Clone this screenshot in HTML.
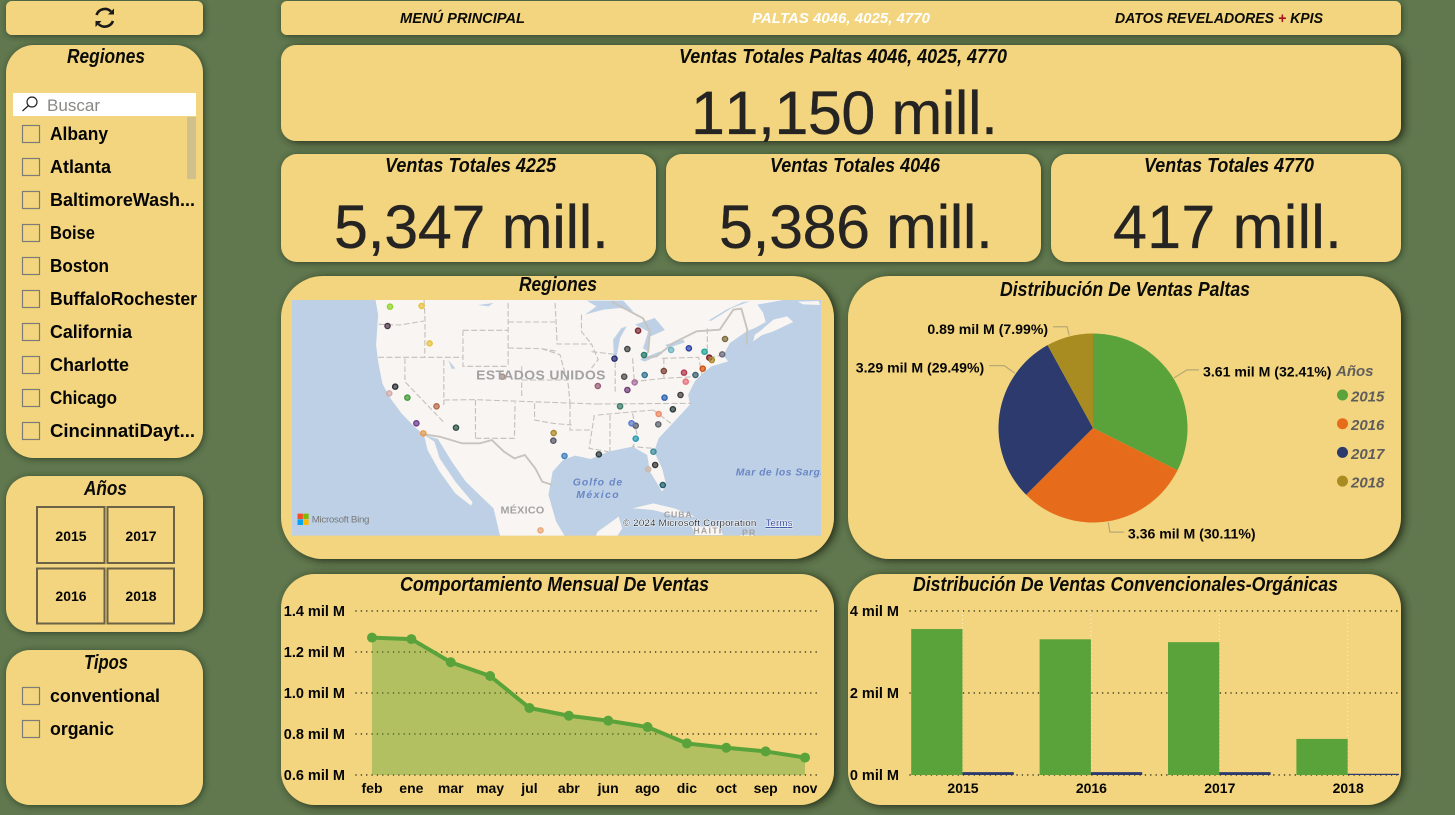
<!DOCTYPE html>
<html lang="es">
<head>
<meta charset="utf-8">
<title>Ventas Paltas</title>
<style>
html,body{margin:0;padding:0;width:1455px;height:815px;overflow:hidden;background:#61784f;}
svg{display:block;position:absolute;left:0;top:0;}
text{font-family:"Liberation Sans",sans-serif;}
.card{fill:#f2d57e;filter:url(#cardShadow);}
.cardBig{fill:#f2d57e;filter:url(#bigShadow);}
.title{font-family:"Liberation Sans Narrow","Liberation Sans",sans-serif;font-weight:700;font-style:italic;font-size:20px;fill:#0b0b08;}
.kpi{font-size:61px;fill:#252423;stroke:#252423;stroke-width:.3;font-kerning:none;}
.nav{font-weight:700;font-style:italic;font-size:15px;fill:#0b0b08;}
.item{font-weight:700;font-size:18px;fill:#050505;}
.box{fill:none;stroke:#7d7a78;stroke-width:1.2;}
.tile{fill:none;stroke:#6b6248;stroke-width:2;}
.tileText{font-weight:700;font-size:14px;fill:#050505;text-anchor:middle;}
.axis{font-weight:700;font-size:14.5px;fill:#050505;}
.grid{stroke:#2e2a16;stroke-width:1.4;stroke-linecap:round;stroke-dasharray:.1 5.25;fill:none;}
.legend{font-weight:700;font-style:italic;font-size:15px;fill:#605e5c;}
.pieLabel{font-weight:700;font-size:14.1px;fill:#050505;}
.dash{fill:none;stroke:#c4c0bb;stroke-width:3.2;stroke-dasharray:17 7;}
.maplabel{font-weight:700;fill:#a2a2a2;}
</style>
</head>
<body>
<svg id="page" width="1455" height="815" viewBox="0 0 1455 815" xmlns="http://www.w3.org/2000/svg">
<defs>
<filter id="cardShadow" x="-10%" y="-20%" width="120%" height="140%"><feDropShadow dx="1" dy="1" stdDeviation="3.4" flood-color="#27341d" flood-opacity=".85"/></filter>
<filter id="bigShadow" x="-10%" y="-20%" width="120%" height="140%"><feDropShadow dx="3" dy="1.5" stdDeviation="4.2" flood-color="#212c18" flood-opacity="1"/></filter>
<filter id="halo" x="-5%" y="-20%" width="110%" height="140%"><feMorphology in="SourceAlpha" operator="dilate" radius="2" result="d"/><feFlood flood-color="#ffffff" flood-opacity=".8"/><feComposite in2="d" operator="in" result="w"/><feMerge><feMergeNode in="w"/><feMergeNode in="SourceGraphic"/></feMerge></filter>
<clipPath id="mapClip"><rect x="20" y="15" width="1522" height="707"/></clipPath>
</defs>

<!-- cards -->
<rect class="card" x="6" y="1" width="197" height="34" rx="6"/>
<rect class="card" x="6" y="45" width="197" height="413" rx="28"/>
<rect class="card" x="6" y="476" width="197" height="156" rx="24"/>
<rect class="card" x="6" y="650" width="197" height="155" rx="24"/>
<rect class="card" x="281" y="1" width="1120" height="34" rx="6"/>
<rect class="cardBig" x="281" y="45" width="1120" height="96" rx="15"/>
<rect class="card" x="281" y="154" width="375" height="108" rx="16"/>
<rect class="card" x="666" y="154" width="375" height="108" rx="16"/>
<rect class="card" x="1051" y="154" width="350" height="108" rx="16"/>
<rect class="cardBig" x="281" y="276" width="553" height="283" rx="42"/>
<rect class="cardBig" x="848" y="276" width="553" height="283" rx="42"/>
<rect class="cardBig" x="281" y="574" width="553" height="231" rx="34"/>
<rect class="cardBig" x="848" y="574" width="553" height="231" rx="34"/>

<!-- refresh icon -->
<g fill="none" stroke="#1a1a1a" stroke-width="2.6">
<path d="M96.5,15 A8.8,8.8 0 0 1 111,11.5"/>
<path d="M113,21 A8.8,8.8 0 0 1 98.5,24"/>
<path d="M108,14.5 L114,14.5 L114,8.5 Z" fill="#1a1a1a" stroke="none"/>
<path d="M95.5,21 L101.5,21 L95.5,27 Z" fill="#1a1a1a" stroke="none"/>
</g>

<!-- navigation -->
<text class="nav" x="400" y="23" textLength="125" lengthAdjust="spacingAndGlyphs">MENÚ PRINCIPAL</text>
<text class="nav" x="752" y="23" textLength="178" lengthAdjust="spacingAndGlyphs" style="fill:#ffffff">PALTAS 4046, 4025, 4770</text>
<text class="nav" x="1115" y="23" textLength="208" lengthAdjust="spacingAndGlyphs">DATOS REVELADORES <tspan fill="#a3121f">+</tspan> KPIS</text>

<!-- KPI -->
<text class="title" x="679" y="63" textLength="328" lengthAdjust="spacingAndGlyphs">Ventas Totales Paltas 4046, 4025, 4770</text>
<text class="kpi" x="691" y="134" textLength="307" lengthAdjust="spacing">11,150 mill.</text>
<text class="title" x="385" y="172" textLength="171" lengthAdjust="spacingAndGlyphs">Ventas Totales 4225</text>
<text class="kpi" x="334" y="248" textLength="275" lengthAdjust="spacing">5,347 mill.</text>
<text class="title" x="770" y="172" textLength="170" lengthAdjust="spacingAndGlyphs">Ventas Totales 4046</text>
<text class="kpi" x="719" y="248" textLength="274" lengthAdjust="spacing">5,386 mill.</text>
<text class="title" x="1144" y="172" textLength="170" lengthAdjust="spacingAndGlyphs">Ventas Totales 4770</text>
<text class="kpi" x="1113" y="248" textLength="229" lengthAdjust="spacing">417 mill.</text>

<!-- regions slicer -->
<text class="title" x="67" y="63" textLength="78" lengthAdjust="spacingAndGlyphs">Regiones</text>
<rect x="13" y="93" width="183" height="23" fill="#ffffff"/>
<g fill="none" stroke="#222" stroke-width="1.2"><circle cx="32" cy="102" r="5"/><path d="M28.5,105.5 L22.5,111"/></g>
<text x="47" y="111" textLength="53" lengthAdjust="spacingAndGlyphs" font-size="16.5" fill="#8a8886">Buscar</text>
<rect x="187" y="117" width="9" height="62" fill="#cfc08c"/>
<g>
<rect class="box" x="22.5" y="125.5" width="17" height="17"/><text class="item" x="50" y="140" textLength="58" lengthAdjust="spacingAndGlyphs">Albany</text>
<rect class="box" x="22.5" y="158.5" width="17" height="17"/><text class="item" x="50" y="173" textLength="61" lengthAdjust="spacingAndGlyphs">Atlanta</text>
<rect class="box" x="22.5" y="191.5" width="17" height="17"/><text class="item" x="50" y="206" textLength="145" lengthAdjust="spacingAndGlyphs">BaltimoreWash...</text>
<rect class="box" x="22.5" y="224.5" width="17" height="17"/><text class="item" x="50" y="239" textLength="45" lengthAdjust="spacingAndGlyphs">Boise</text>
<rect class="box" x="22.5" y="257.5" width="17" height="17"/><text class="item" x="50" y="272" textLength="59" lengthAdjust="spacingAndGlyphs">Boston</text>
<rect class="box" x="22.5" y="290.5" width="17" height="17"/><text class="item" x="50" y="305" textLength="147" lengthAdjust="spacingAndGlyphs">BuffaloRochester</text>
<rect class="box" x="22.5" y="323.5" width="17" height="17"/><text class="item" x="50" y="338" textLength="82" lengthAdjust="spacingAndGlyphs">California</text>
<rect class="box" x="22.5" y="356.5" width="17" height="17"/><text class="item" x="50" y="371" textLength="79" lengthAdjust="spacingAndGlyphs">Charlotte</text>
<rect class="box" x="22.5" y="389.5" width="17" height="17"/><text class="item" x="50" y="404" textLength="67" lengthAdjust="spacingAndGlyphs">Chicago</text>
<rect class="box" x="22.5" y="422.5" width="17" height="17"/><text class="item" x="50" y="437" textLength="145" lengthAdjust="spacingAndGlyphs">CincinnatiDayt...</text>
</g>

<!-- years slicer -->
<text class="title" x="84" y="495" textLength="43" lengthAdjust="spacingAndGlyphs">Años</text>
<rect class="tile" x="37" y="507" width="67.500" height="56"/><text class="tileText" x="71" y="541">2015</text>
<rect class="tile" x="107.500" y="507" width="66.500" height="56"/><text class="tileText" x="141" y="541">2017</text>
<rect class="tile" x="37" y="568.500" width="67.500" height="55"/><text class="tileText" x="71" y="601">2016</text>
<rect class="tile" x="107.500" y="568.500" width="66.500" height="55"/><text class="tileText" x="141" y="601">2018</text>

<!-- types slicer -->
<text class="title" x="84" y="669" textLength="44" lengthAdjust="spacingAndGlyphs">Tipos</text>
<rect class="box" x="22.5" y="687.5" width="17" height="17"/><text class="item" x="50" y="702" textLength="110" lengthAdjust="spacingAndGlyphs">conventional</text>
<rect class="box" x="22.5" y="720.5" width="17" height="17"/><text class="item" x="50" y="735" textLength="64" lengthAdjust="spacingAndGlyphs">organic</text>

<!-- chart titles -->
<text class="title" x="519" y="291" textLength="78" lengthAdjust="spacingAndGlyphs">Regiones</text>
<text class="title" x="1000" y="296" textLength="250" lengthAdjust="spacingAndGlyphs">Distribución De Ventas Paltas</text>
<text class="title" x="400" y="591" textLength="309" lengthAdjust="spacingAndGlyphs">Comportamiento Mensual De Ventas</text>
<text class="title" x="913" y="591" textLength="425" lengthAdjust="spacingAndGlyphs">Distribución De Ventas Convencionales-Orgánicas</text>

<!-- map -->
<svg x="285" y="295" width="545" height="250" viewBox="0 0 1568 750" preserveAspectRatio="none">
<g clip-path="url(#mapClip)">
<rect x="0" y="0" width="1568" height="750" fill="#bdd0e5"/>
<path fill="#f8f5f2" d="M258,0 L268,60 L262,150 L268,200 L280,265 L300,305 L335,355 L372,395 L400,420 L440,432 L480,500 L520,560 L600,640 L625,750 L820,750 L780,680 L758,600 L770,530 L800,495 L835,482 L880,492 L930,470 L1000,455 L1042,480 L1050,530 L1085,590 L1097,570 L1085,520 L1062,470 L1075,430 L1115,385 L1165,329 L1160,299 L1179,259 L1203,234 L1227,214 L1275,199 L1261,181 L1280,144 L1328,109 L1352,99 L1383,81 L1376,54 L1359,29 L1433,15 L1472,0 Z"/>
<path fill="#f8f5f2" d="M1347,139 L1371,121 L1405,109 L1462,81 L1445,64 L1405,74 L1366,109 L1352,119 Z M1475,20 L1535,18 L1540,30 L1490,28 Z"/>
<path fill="#f8f5f2" d="M400,420 L430,440 L445,490 L490,560 L540,622 L535,632 L490,595 L445,530 L410,465 Z"/>
<path fill="#f8f5f2" d="M880,750 L900,710 L960,665 L970,700 L940,750 Z M1000,640 L1060,625 L1120,640 L1180,665 L1130,665 L1060,645 Z M1170,695 L1250,695 L1260,720 L1180,720 Z M1310,720 L1350,720 L1350,730 L1310,730 Z"/>
<path fill="#bdd0e5" d="M863,59 L896,34 L868,17 L973,17 L1002,49 L964,39 L916,44 Z M944,134 L968,99 L983,94 L964,129 L954,184 L946,179 Z M1007,89 L1064,69 L1093,105 L1050,125 L1045,170 L1030,160 L1045,110 Z M1021,194 L1079,169 L1085,176 L1035,200 Z M1093,150 L1146,134 L1150,142 L1105,158 Z M1218,77 L1270,44 L1318,21 L1337,19 L1285,39 L1227,77 Z M470,195 L490,220 L480,222 Z M555,30 L600,24 L585,34 Z"/>
<g fill="none" stroke="#c7c3be" stroke-width="5.5">
<path d="M398,418 L445,425 L510,445 L560,445 L595,435 L630,470 L660,490 L690,480 L720,520 L740,560 L770,570"/>
<path d="M940,20 L1030,70 L1050,110 L1045,170 L1031,189 L1069,184 L1117,144 L1184,109 L1251,104 L1290,44 L1313,41 L1330,104 L1328,149"/>
</g>
<g>
<path class="dash" d="M270,88 L330,90 L400,78"/>
<path class="dash" d="M400,15 L403,80 L402,185"/>
<path class="dash" d="M268,187 L510,187"/>
<path class="dash" d="M457,195 L457,330"/>
<path class="dash" d="M345,190 L345,260 L455,380"/>
<path class="dash" d="M457,315 L546,314 L896,327"/>
<path class="dash" d="M548,315 L548,430"/>
<path class="dash" d="M548,430 L660,430 L662,322"/>
<path class="dash" d="M512,106 L512,214 L642,214"/>
<path class="dash" d="M512,106 L642,106"/>
<path class="dash" d="M642,81 L777,81"/>
<path class="dash" d="M642,24 L642,214"/>
<path class="dash" d="M642,159 L738,161 L783,169"/>
<path class="dash" d="M777,24 L783,147 L882,147 L901,194 L882,219"/>
<path class="dash" d="M681,214 L681,309"/>
<path class="dash" d="M681,255 L815,255"/>
<path class="dash" d="M738,161 L791,179 L815,269 L820,325"/>
<path class="dash" d="M820,325 L820,405 L880,405"/>
<path class="dash" d="M896,327 L1170,325"/>
<path class="dash" d="M718,325 L718,375 L770,385 L825,390"/>
<path class="dash" d="M853,59 L853,110 L882,147"/>
<path class="dash" d="M882,170 L950,178"/>
<path class="dash" d="M950,178 L950,290"/>
<path class="dash" d="M1000,190 L1005,260"/>
<path class="dash" d="M900,360 L1060,345"/>
<path class="dash" d="M890,360 L875,460 L930,470"/>
<path class="dash" d="M935,360 L935,470"/>
<path class="dash" d="M1000,355 L1015,430 L1000,455 L1060,460"/>
<path class="dash" d="M1060,345 L1110,385"/>
<path class="dash" d="M1085,190 L1190,187 L1200,240"/>
<path class="dash" d="M1090,190 L1090,250 L1180,245"/>
<path class="dash" d="M1000,260 L1090,250"/>
<path class="dash" d="M1215,100 L1215,190 L1260,180"/>
</g>
<g id="mapMarks"></g>
<text class="maplabel" x="550" y="254" font-size="40" textLength="372" lengthAdjust="spacing">ESTADOS UNIDOS</text>
<text class="maplabel" x="620" y="655" font-size="31" textLength="126" lengthAdjust="spacing">MÉXICO</text>
<text x="828" y="572" font-size="30" font-weight="700" font-style="italic" fill="#6a87c5" textLength="142" lengthAdjust="spacing">Golfo de</text>
<text x="838" y="609" font-size="30" font-weight="700" font-style="italic" fill="#6a87c5" textLength="122" lengthAdjust="spacing">México</text>
<text x="1297" y="541" font-size="30" font-weight="700" font-style="italic" fill="#6a87c5" textLength="260" lengthAdjust="spacing">Mar de los Sarga</text>
<text class="maplabel" x="1090" y="668" font-size="25" textLength="80" lengthAdjust="spacing">CUBA</text>
<text class="maplabel" x="1175" y="716" font-size="25" textLength="80" lengthAdjust="spacing">HAITÍ</text>
<text class="maplabel" x="1315" y="722" font-size="25" textLength="38" lengthAdjust="spacing">PR</text>
<g>
<rect x="36" y="656" width="15.500" height="16" fill="#f25022"/><rect x="52.500" y="656" width="15.500" height="16" fill="#7fba00"/>
<rect x="36" y="673" width="15.500" height="17" fill="#00a4ef"/><rect x="52.500" y="673" width="15.500" height="17" fill="#ffb900"/>
<text x="77" y="683" font-size="28" fill="#77787a" textLength="166" lengthAdjust="spacing">Microsoft Bing</text>
</g>
<text x="972" y="693" font-size="28" fill="#111" filter="url(#halo)" textLength="384" lengthAdjust="spacing">© 2024 Microsoft Corporation</text>
<text x="1382" y="693" font-size="28" fill="#1c3aa0" text-decoration="underline" filter="url(#halo)" textLength="78" lengthAdjust="spacing">Terms</text>
</g>
</svg>

<g id="pieChart"></g>
<g id="lineChart"></g>
<g id="barChart"></g>
</svg>

<script>
// ---- chart data ----
const pieYears = ['2015', '2016', '2017', '2018'];
const pieValues = [3.61, 3.36, 3.29, 0.89];
const piePercents = ['32.41%', '30.11%', '29.49%', '7.99%'];

const lineMonths = ['feb', 'ene', 'mar', 'may', 'jul', 'abr', 'jun', 'ago', 'dic', 'oct', 'sep', 'nov'];
const lineValues = [1.270, 1.263, 1.150, 1.083, 0.927, 0.889, 0.865, 0.834, 0.754, 0.733, 0.715, 0.685];
const lineTicks = [0.6, 0.8, 1.0, 1.2, 1.4];

const barYears = ['2015', '2016', '2017', '2018'];
const barConventional = [3.56, 3.31, 3.24, 0.88];
const barOrganic = [0.07, 0.07, 0.07, 0.03];
const barTicks = [0, 2, 4];

const markerLon = [-122.36, -117.47, -122.74, -116.23, -121.55, -122.47, -119.67, -115.16, -118.28, -117.2, -112.15, -105.0, -90.21, -87.63, -85.64, -83.06, -83.98, -86.13, -82.96, -84.51, -85.64, -80.0, -76.88, -75.11, -76.61, -77.42, -79.89, -78.6, -80.8, -80.86, -86.77, -84.35, -85.0, -84.35, -81.61, -81.34, -82.42, -80.16, -90.05, -95.37, -97.04, -97.09, -99.08, -78.87, -76.13, -73.71, -72.96, -72.58, -73.98, -70.97, -70.53];
const markerLat = [48.36, 48.44, 45.97, 43.82, 38.47, 37.64, 37.11, 36.04, 33.94, 32.7, 33.4, 39.7, 38.55, 41.93, 43.12, 42.38, 45.39, 39.7, 39.91, 39.0, 38.06, 40.4, 40.2, 39.91, 39.09, 37.44, 37.11, 35.67, 35.09, 33.81, 36.04, 33.65, 33.94, 32.04, 30.43, 28.79, 28.25, 26.31, 30.1, 29.9, 32.74, 31.79, 20.71, 43.0, 43.21, 42.79, 42.05, 41.76, 40.69, 42.46, 44.36];

// ---- styling (not data) ----
const markerPalette = ['#8fd42a','#e8c23c','#4a3445','#e8c23c','#2b2f35','#d0a9a9','#3f9a35','#b5694a','#6a3b8c','#e79a4a','#2f4f42','#a88a85','#9a5a75','#222a6b','#3f4445','#257a6c','#7a2a35','#4c4c4c','#2f7590','#a86f9c','#6d3f75','#7a4535','#b5354a','#3a6070','#e8707a','#3d3d3d','#2a62b0','#2a3a3a','#ef8a68','#5a6068','#3a7a68','#5c5c66','#5a7ad0','#2a9ab5','#3a8a98','#333333','#cdb8a8','#1f5a6a','#2a3a3a','#3a80c0','#a8882a','#555566','#e8a878','#6ab5c5','#2a40a5','#20a598','#7a1a25','#a88a2a','#d0500f','#666677','#7a6a3a'];
const pieColors = ['#5aa33a', '#e66c1b', '#2c3a6e', '#a98c21'];
const SVGNS = 'http://www.w3.org/2000/svg';

function mk(parent, tag, attrs, text) {
  const el = document.createElementNS(SVGNS, tag);
  for (const k in attrs) el.setAttribute(k, attrs[k]);
  if (text !== undefined) el.textContent = text;
  parent.appendChild(el);
  return el;
}

// ---- map markers ----
(function () {
  const g = document.getElementById('mapMarks');
  const lonX = lon => 398 + (lon + 117.2) * 18.6;
  const latY = lat => 415 - (lat - 32.7) * 24.27;
  markerLon.forEach((lon, i) => {
    const c = mk(g, 'ellipse', { cx: lonX(lon), cy: latY(markerLat[i]), rx: 7.5, ry: 7.8, fill: markerPalette[i], 'fill-opacity': .7, stroke: markerPalette[i], 'stroke-width': 4 });
    
    
  });
})();

// ---- pie chart ----
(function () {
  const g = document.getElementById('pieChart');
  const cx = 1093, cy = 428, r = 94.5;
  const total = pieValues.reduce((a, b) => a + b, 0);
  const pt = (a, rad) => [cx + rad * Math.sin(a), cy - rad * Math.cos(a)];
  const leaderShift = [0, 0, 0.47, 0];
  const leaderOut = [16, 11, 14, 10];
  const run = [12, 14, 15, 14];
  const lift = [1.500, 1.200, 2.000, 2.000];
  let start = 0;
  pieValues.forEach((v, i) => {
    const sweep = v / total * Math.PI * 2;
    const end = start + sweep;
    const [x0, y0] = pt(start, r);
    const [x1, y1] = pt(end, r);
    const s = mk(g, 'path', { d: `M${cx},${cy} L${x0},${y0} A${r},${r} 0 ${sweep > Math.PI ? 1 : 0} 1 ${x1},${y1} Z`, fill: pieColors[i] });
    
    
    const mid = start + sweep / 2 + leaderShift[i];
    const [ax, ay] = pt(mid, r + 1);
    const [bx, by] = pt(mid, r + leaderOut[i]);
    const right = Math.sin(mid) > 0;
    const ex = bx + (right ? run[i] : -run[i]);
    const l = mk(g, 'polyline', { points: `${ax},${ay} ${bx},${by} ${ex},${by}`, fill: 'none', stroke: '#b7a877', 'stroke-width': 1.2 });
    
    
    const t = mk(g, 'text', { class: 'pieLabel', x: ex + (right ? 4 : -5), y: by + 5 + lift[i], 'text-anchor': right ? 'start' : 'end' }, v.toFixed(2) + ' mil M (' + piePercents[i] + ')');
    
    
    start = end;
  });
  const lt = mk(g, 'text', { class: 'legend', x: 1336, y: 376 }, 'Años');
  
  
  pieYears.forEach((yr, i) => {
    const y = 395 + i * 28.7;
    const d = mk(g, 'circle', { cx: 1342.5, cy: y, r: 5.5, fill: pieColors[i] });
    
    
    const t = mk(g, 'text', { class: 'legend', x: 1351, y: y + 6.5 }, yr);
    
    
  });
})();

// ---- line chart ----
(function () {
  const g = document.getElementById('lineChart');
  const yAxis = v => 775 - (v - lineTicks[0]) / (lineTicks[lineTicks.length - 1] - lineTicks[0]) * 164;
  const xAxis = i => 372 + i * (805 - 372) / (lineMonths.length - 1);
  lineTicks.forEach(t => {
    const gl = mk(g, 'line', { class: 'grid', x1: 356, x2: 819, y1: yAxis(t), y2: yAxis(t) });
    
    
    const tl = mk(g, 'text', { class: 'axis', x: 345, y: yAxis(t) + 5, 'text-anchor': 'end' }, t.toFixed(1) + ' mil M');
    
    
  });
  const pts = lineValues.map((v, i) => [xAxis(i), yAxis(v)]);
  const area = mk(g, 'path', { d: 'M' + xAxis(0) + ',' + yAxis(lineTicks[0]) + ' L' + pts.map(p => p.join(',')).join(' L') + ' L' + xAxis(lineValues.length - 1) + ',' + yAxis(lineTicks[0]) + ' Z', fill: '#5aa33a', 'fill-opacity': .41 });
  
  
  const line = mk(g, 'polyline', { points: pts.map(p => p.join(',')).join(' '), fill: 'none', stroke: '#5aa33a', 'stroke-width': 4 });
  
  
  pts.forEach((p, i) => {
    const c = mk(g, 'circle', { cx: p[0], cy: p[1], r: 5, fill: '#5aa33a' });
    
    
    const t = mk(g, 'text', { class: 'axis', x: p[0], y: 793, 'text-anchor': 'middle', style: 'font-size:14px' }, lineMonths[i]);
    
    
  });
})();

// ---- bar chart ----
(function () {
  const g = document.getElementById('barChart');
  const yAxis = v => 775 - v / barTicks[barTicks.length - 1] * 164;
  const center = i => 962.5 + i * 128.4;
  const barW = 51.3;
  barTicks.forEach(t => {
    const gl = mk(g, 'line', { class: 'grid', x1: 910, x2: 1398, y1: yAxis(t), y2: yAxis(t) });
    
    
    const tl = mk(g, 'text', { class: 'axis', x: 899, y: yAxis(t) + 5, 'text-anchor': 'end' }, t + ' mil M');
    
    
  });
  barYears.forEach((yr, i) => {
    const c = center(i);
    const vl = mk(g, 'line', { x1: c, x2: c, y1: yAxis(barTicks[barTicks.length - 1]), y2: yAxis(0), stroke: '#fbf3d6', 'stroke-width': 1, 'stroke-dasharray': '1 3' });
    
    
    const a = mk(g, 'rect', { x: c - barW, y: yAxis(barConventional[i]), width: barW, height: yAxis(0) - yAxis(barConventional[i]), fill: '#5aa33a' });
    
    
    const b = mk(g, 'rect', { x: c, y: yAxis(barOrganic[i]), width: barW, height: yAxis(0) - yAxis(barOrganic[i]), fill: '#2c3a6e' });
    
    
    const t = mk(g, 'text', { class: 'axis', x: c + 0.5, y: 793, 'text-anchor': 'middle', style: 'font-size:14px' }, yr);
    
    
  });
})();
</script>
</body>
</html>
